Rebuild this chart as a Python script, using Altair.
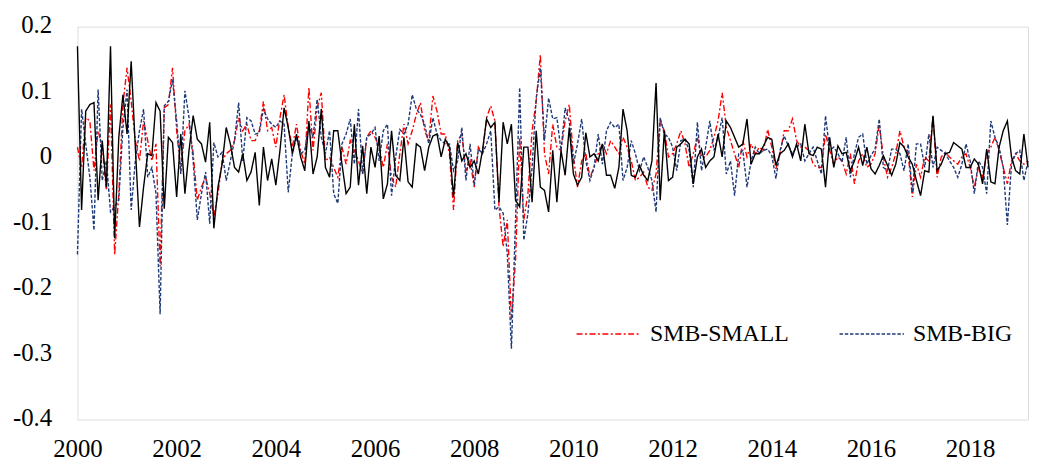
import altair as alt
import pandas as pd

# Monthly observations, 2000-01 .. 2019-03
start_year = 2000
n_months = 231

smb = [0.170,-0.080,0.071,0.081,0.084,-0.065,0.026,-0.045,0.170,-0.123,
0.031,0.096,0.036,0.147,0.016,-0.106,-0.045,0.006,0.003,0.084,
0.071,-0.078,0.031,0.023,-0.060,0.036,-0.055,0.011,0.064,0.028,
0.021,-0.007,0.054,-0.108,-0.045,-0.010,0.046,0.021,-0.015,-0.022,
0.006,-0.035,-0.022,0.008,-0.073,0.016,-0.035,-0.002,-0.042,0.011,
0.076,0.046,0.006,0.036,0.001,-0.020,0.056,-0.025,0.001,0.074,
-0.015,-0.030,0.041,0.041,-0.010,-0.055,-0.045,0.051,-0.042,0.018,
-0.055,0.016,-0.015,0.033,-0.063,-0.040,0.041,-0.027,-0.035,0.031,
-0.037,-0.045,0.021,0.016,-0.020,0.016,0.033,0.036,0.001,0.028,
0.016,-0.060,0.023,-0.005,0.006,-0.015,-0.005,-0.025,0.011,0.059,
0.046,0.054,-0.068,0.054,0.021,0.051,-0.065,-0.075,0.016,0.016,
-0.068,0.041,-0.045,-0.050,-0.083,0.011,-0.068,0.011,-0.027,0.046,
-0.025,-0.042,-0.030,0.038,0.001,0.006,-0.005,0.021,-0.027,-0.027,
-0.047,-0.015,0.074,0.041,-0.027,-0.030,-0.012,-0.027,-0.035,-0.005,
0.114,-0.065,0.041,-0.035,-0.030,0.016,0.021,0.028,0.021,-0.040,
0.001,0.013,-0.015,-0.005,0.001,0.036,0.001,0.056,0.046,0.031,
0.016,0.021,0.059,-0.010,0.006,0.006,0.018,0.031,0.028,-0.012,
0.006,0.011,0.021,0.001,0.021,-0.005,0.051,0.006,0.003,0.016,
0.013,-0.045,0.031,-0.015,0.018,0.006,0.008,-0.020,-0.005,0.016,
-0.012,0.016,-0.017,-0.025,-0.012,0.003,-0.012,-0.027,-0.010,0.023,
0.016,0.001,-0.010,-0.035,-0.058,-0.020,-0.022,0.064,-0.020,-0.010,
0.006,0.008,0.023,0.018,0.013,-0.015,-0.015,-0.002,-0.010,-0.040,
0.013,-0.037,-0.040,0.016,0.041,0.056,0.001,-0.020,-0.025,0.036,
-0.015]

smb_big = [-0.148,0.074,0.021,-0.030,-0.111,0.104,-0.035,-0.005,-0.083,-0.075,
-0.065,0.046,0.104,-0.080,-0.005,0.041,0.074,-0.030,-0.015,-0.055,
-0.239,0.079,0.086,0.119,0.056,-0.025,0.102,0.061,-0.005,-0.095,
-0.055,-0.022,-0.101,0.023,0.001,0.008,-0.035,-0.005,0.026,0.084,
-0.005,0.061,0.056,0.036,0.038,0.074,0.059,0.051,0.046,0.056,
0.051,-0.053,0.006,0.031,0.006,0.011,0.051,0.031,0.089,0.031,
0.006,0.041,-0.055,-0.070,0.021,0.036,0.059,-0.010,0.074,-0.025,
0.031,0.036,0.046,-0.005,0.041,0.051,-0.058,0.001,0.043,0.036,
0.051,0.096,0.074,0.066,0.051,0.021,0.061,0.036,0.026,0.021,
0.021,-0.020,-0.005,0.046,-0.035,0.021,-0.042,0.013,0.006,0.021,
0.041,-0.080,-0.075,-0.085,-0.146,-0.292,-0.095,0.107,-0.126,-0.085,
-0.015,0.091,0.137,0.026,0.091,0.059,0.061,0.011,0.076,0.056,
-0.010,0.021,0.059,-0.005,-0.035,-0.015,0.036,-0.010,0.041,0.054,
0.046,0.051,-0.035,-0.015,0.026,0.006,-0.020,0.001,-0.015,-0.035,
-0.083,0.061,0.036,0.031,0.016,-0.020,0.026,0.028,0.011,-0.045,
0.054,-0.020,0.016,0.056,0.011,0.031,0.061,-0.025,-0.005,-0.058,
0.006,0.011,-0.045,-0.005,0.016,0.006,0.011,0.013,0.003,-0.032,
0.011,0.033,0.018,0.006,0.016,0.021,-0.005,0.006,0.016,-0.005,
-0.025,0.064,0.011,0.016,0.006,-0.007,0.031,-0.030,0.006,0.031,
0.036,-0.010,0.003,0.013,0.059,-0.015,-0.020,0.013,0.013,0.006,
-0.020,0.021,-0.053,0.021,0.021,-0.015,0.036,-0.015,0.016,0.011,
0.006,-0.005,-0.015,-0.030,-0.010,0.021,-0.005,-0.055,-0.005,-0.015,
-0.055,0.056,0.031,0.016,-0.015,-0.103,-0.010,0.006,0.011,-0.035,
-0.005]

smb_small = [0.016,-0.015,0.061,0.056,-0.020,0.041,0.016,-0.050,0.081,-0.148,
-0.055,0.081,0.137,0.086,0.026,-0.005,0.056,0.026,-0.005,0.021,
-0.166,0.076,0.081,0.137,0.041,-0.020,0.041,0.051,0.006,-0.065,
-0.045,-0.030,-0.055,-0.090,-0.055,-0.005,0.006,0.011,0.026,0.061,
0.041,0.051,0.026,0.026,0.041,0.086,0.041,0.046,0.016,0.061,
0.096,0.046,0.016,0.051,0.011,-0.010,0.107,0.011,0.076,0.099,
-0.005,0.001,-0.015,-0.030,0.016,-0.010,0.026,0.011,-0.005,-0.025,
0.031,0.041,0.031,0.016,-0.015,0.021,-0.030,-0.045,0.006,0.051,
0.021,0.041,0.066,0.084,0.041,0.026,0.094,0.071,0.036,0.036,
0.006,-0.080,0.026,0.036,-0.020,-0.005,-0.045,0.016,0.006,0.061,
0.079,0.056,-0.075,-0.136,-0.095,-0.247,-0.156,0.031,-0.095,-0.055,
0.041,0.086,0.157,0.006,-0.025,0.051,0.016,0.011,0.056,0.081,
0.001,-0.045,-0.005,0.006,-0.030,-0.015,0.006,0.021,0.006,0.026,
0.016,0.006,0.031,0.016,-0.005,-0.035,-0.030,-0.022,-0.045,-0.050,
-0.025,0.056,0.041,0.001,0.006,0.021,0.041,0.021,-0.015,0.006,
0.031,0.001,0.001,0.011,0.031,0.056,0.099,0.046,0.026,0.006,
-0.015,0.026,0.001,0.021,0.006,0.016,0.011,0.043,0.016,-0.017,
0.006,0.041,0.041,0.059,0.026,0.016,0.016,0.011,-0.010,-0.015,
-0.015,0.036,0.011,-0.010,0.001,-0.005,-0.025,0.006,-0.040,-0.005,
0.006,-0.015,-0.010,0.006,0.051,0.001,-0.030,-0.015,0.006,0.041,
0.016,0.006,-0.060,-0.010,-0.030,0.001,-0.005,0.064,-0.030,0.001,
0.008,0.001,-0.005,-0.010,0.001,0.006,-0.015,-0.045,-0.015,-0.030,
0.006,0.016,0.031,0.011,-0.015,-0.040,-0.005,0.006,-0.005,-0.010,
-0.005]

series_names = ["SMB-SMALL", "SMB-BIG", "SMB"]
series_colors = ["#FF0000", "#1F3A78", "#000000"]
series_dash = [[6, 2.5, 2, 2.5], [3.5, 1.8], [1, 0]]
x_tick_years = [2000, 2002, 2004, 2006, 2008, 2010, 2012, 2014, 2016, 2018]
y_ticks = [-0.4, -0.3, -0.2, -0.1, 0.0, 0.1, 0.2]

assert len(smb) == len(smb_big) == len(smb_small) == n_months

months = pd.period_range(f"{start_year}-01", periods=n_months, freq="M")
t = [p.year + (p.month - 1) / 12 for p in months]

frames = []
for name, vals in zip(series_names, [smb_small, smb_big, smb]):
    frames.append(pd.DataFrame({"t": t, "value": vals, "series": name}))
df = pd.concat(frames, ignore_index=True)

FONT = "Liberation Serif"

legend = alt.Legend(
    title=None, values=["SMB-SMALL", "SMB-BIG"], orient="none",
    legendX=502, legendY=276, direction="horizontal",
    symbolType="stroke", symbolSize=4225, symbolStrokeWidth=1.3,
    labelFont=FONT, labelFontSize=24, labelColor="#000000",
    labelOffset=8, columnPadding=47, labelLimit=400,
)

xenc = alt.X("t:Q", scale=alt.Scale(domain=[2000, 2019 + 2 / 12], nice=False, zero=False),
             axis=alt.Axis(values=x_tick_years, format="d", title=None, domain=False,
                           ticks=False, grid=False, labelFont=FONT, labelFontSize=25,
                           labelColor="#000000", labelPadding=17, labelFlush=False))
yenc = alt.Y("value:Q", scale=alt.Scale(domain=[-0.4, 0.2], nice=False, zero=False),
             axis=alt.Axis(values=y_ticks, title=None, domain=False, ticks=False, grid=False,
                           labelFont=FONT, labelFontSize=25, labelColor="#000000",
                           labelPadding=26, labelOffset=-2,
                           labelExpr="abs(datum.value) < 1e-9 ? '0' : (datum.value < 0 ? '-' : '') + format(abs(datum.value), '.1f')"))
cenc = alt.Color("series:N", scale=alt.Scale(domain=series_names, range=series_colors), legend=legend)
denc = alt.StrokeDash("series:N", scale=alt.Scale(domain=series_names, range=series_dash), legend=legend)

layers = []
for name in series_names:
    layers.append(
        alt.Chart(df).transform_filter(alt.datum.series == name)
        .mark_line(strokeWidth=1.4)
        .encode(x=xenc, y=yenc, color=cenc, strokeDash=denc)
    )

chart = alt.layer(*layers).properties(
    width=958, height=396,
    autosize=alt.AutoSizeParams(type="none"),
    padding={"left": 70, "top": 17, "right": 4, "bottom": 44},
).configure_view(strokeWidth=0).configure(background="#FFFFFF")

chart.save("out.html", embed_options={"renderer": "svg", "actions": False})
